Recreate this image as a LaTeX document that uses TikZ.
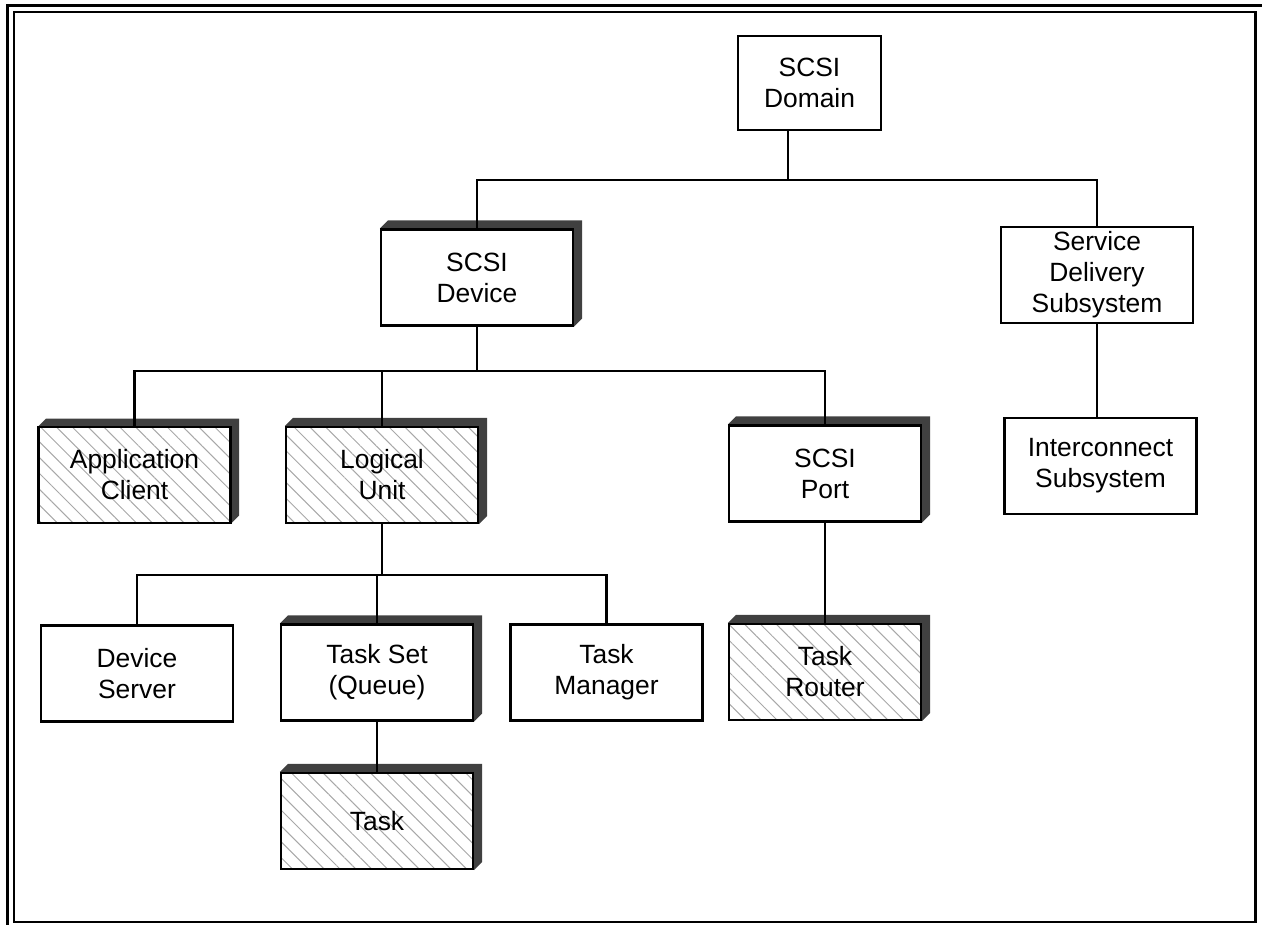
\documentclass[tikz,border=0pt]{standalone}
\usepackage{fontspec}
\setmainfont{Liberation Sans}
\usetikzlibrary{patterns.meta,backgrounds,calc}
\definecolor{shadecol}{HTML}{404040}
\definecolor{hatchcol}{HTML}{A8A8A8}
\tikzset{
  box/.style={draw, line width=1.1pt, minimum width=96pt, minimum height=48pt, inner sep=0pt, align=center, font=\fontsize{13.2}{15.5}\selectfont},
  hatched/.style={pattern={Lines[angle=-45,distance=5.6pt,line width=0.5pt]}, pattern color=hatchcol},
  wire/.style={line width=1.1pt},
  framel/.style={line width=1.2pt},
}
\begin{document}
\begin{tikzpicture}[x=0.5pt,y=-0.5pt]
\useasboundingbox (0,0) rectangle (1262,925);
% frame
\draw[framel] (7.5,925) -- (7.5,5.5) -- (1262,5.5);
\draw[framel] (14,12) rectangle (1255.5,922);
% boxes
\node[box, minimum width=71.5pt, minimum height=47pt] (dom) at (809.5,83) {SCSI\\Domain};
\node[box] (dev) at (477,277.5) {SCSI\\Device};
\node[box] (sds) at (1097,275) {Service\\Delivery\\Subsystem};
\node[box] (ic) at (1100.5,466) {Interconnect\\Subsystem};
\node[box, hatched] (app) at (134.5,475) {Application\\Client};
\node[box, hatched] (lu) at (382,475) {Logical\\Unit};
\node[box] (port) at (825,473.5) {SCSI\\Port};
\node[box] (ds) at (137,673.5) {Device\\Server};
\node[box] (tset) at (377,672.5) {Task Set\\(Queue)};
\node[box] (tm) at (606.5,672.5) {Task\\Manager};
\node[box, hatched] (router) at (825,672) {Task\\Router};
\node[box, hatched] (task) at (377,821) {Task};
% shadows
\begin{scope}[on background layer]
\foreach \n in {dev,app,lu,port,tset,router,task}{
  \fill[shadecol] (\n.north west) -- ($(\n.north west)+(8,-8)$) -- ($(\n.north east)+(8,-8)$)
     -- ($(\n.south east)+(8,-8)$) -- (\n.south east) -- (\n.north east) -- cycle;
}
\end{scope}
% connectors
\coordinate (k1) at (788,180);
\coordinate (k2) at (0,371);
\coordinate (k3) at (0,575);
\draw[wire] (dom.south -| k1) -- (k1);
\draw[wire] (dev.north) |- (k1);
\draw[wire] (k1) -| (sds.north);
\draw[wire] (dev.south) -- (dev.south |- k2);
\draw[wire] (app.north) |- (port.north |- k2) -- (port.north);
\draw[wire] (lu.north) -- (lu.north |- k2);
\draw[wire] (lu.south) -- (lu.south |- k3);
\draw[wire] (ds.north) |- (tm.north |- k3) -- (tm.north);
\draw[wire] (tset.north) -- (tset.north |- k3);
\draw[wire] (tset.south) -- (task.north);
\draw[wire] (port.south) -- (router.north);
\draw[wire] (sds.south) -- (sds.south |- ic.north);
\end{tikzpicture}
\end{document}
